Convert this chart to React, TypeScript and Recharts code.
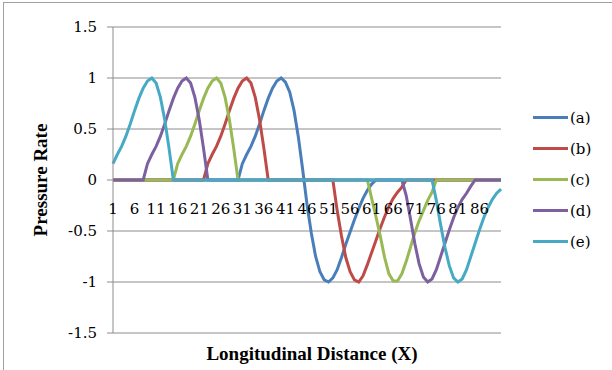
import React from "react";
import { LineChart, Line, XAxis, YAxis, CartesianGrid, Legend } from "recharts";

const categories = [
  1, 2, 3, 4, 5, 6, 7, 8, 9, 10, 11, 12, 13, 14, 15, 16, 17, 18, 19, 20,
  21, 22, 23, 24, 25, 26, 27, 28, 29, 30, 31, 32, 33, 34, 35, 36, 37, 38, 39, 40,
  41, 42, 43, 44, 45, 46, 47, 48, 49, 50, 51, 52, 53, 54, 55, 56, 57, 58, 59, 60,
  61, 62, 63, 64, 65, 66, 67, 68, 69, 70, 71, 72, 73, 74, 75, 76, 77, 78, 79, 80,
  81, 82, 83, 84, 85, 86, 87, 88, 89, 90, 91,
];

const tickLabels = [1, 6, 11, 16, 21, 26, 31, 36, 41, 46, 51, 56, 61, 66, 71, 76, 81, 86];
const yTicks = [-1.5, -1, -0.5, 0, 0.5, 1, 1.5];

// (a)
const seriesA = [
  0, 0, 0, 0, 0, 0, 0, 0, 0, 0,
  0, 0, 0, 0, 0, 0, 0, 0, 0, 0,
  0, 0, 0, 0, 0, 0, 0, 0, 0, 0,
  0.16, 0.25, 0.33, 0.43, 0.55, 0.68, 0.8, 0.9, 0.97, 1, 0.96, 0.86, 0.68, 0.42, 0.1,
  -0.24, -0.52, -0.75, -0.9, -0.98, -1, -0.96, -0.88, -0.76, -0.63, -0.51, -0.39, -0.28, -0.18, -0.1, -0.04,
  0, 0, 0, 0, 0, 0, 0, 0, 0, 0,
  0, 0, 0, 0, 0, 0, 0, 0, 0, 0,
  0, 0, 0, 0, 0, 0, 0, 0, 0, 0,
];

// (b)
const seriesB = [
  0, 0, 0, 0, 0, 0, 0, 0, 0, 0,
  0, 0, 0, 0, 0, 0, 0, 0, 0, 0,
  0, 0,
  0.16, 0.25, 0.33, 0.43, 0.55, 0.68, 0.8, 0.9, 0.97, 1, 0.95, 0.81, 0.59, 0.31, 0,
  0, 0, 0, 0, 0, 0, 0, 0, 0, 0,
  0, 0, 0, 0, 0,
  -0.3, -0.55, -0.76, -0.9, -0.98, -1, -0.94, -0.83, -0.71, -0.59, -0.47, -0.36, -0.26, -0.18, -0.12, -0.07,
  0, 0, 0, 0, 0, 0, 0, 0, 0, 0,
  0, 0, 0, 0, 0, 0, 0, 0, 0, 0,
  0, 0, 0,
];

// (c)
const seriesC = [
  0, 0, 0, 0, 0, 0, 0, 0, 0, 0,
  0, 0, 0, 0, 0,
  0.16, 0.25, 0.33, 0.43, 0.55, 0.68, 0.8, 0.9, 0.97, 1, 0.95, 0.81, 0.59, 0.31, 0,
  0, 0, 0, 0, 0, 0, 0, 0, 0, 0,
  0, 0, 0, 0, 0, 0, 0, 0, 0, 0,
  0, 0, 0, 0, 0, 0, 0, 0, 0, 0,
  -0.18, -0.36, -0.55, -0.76, -0.92, -0.99, -0.99, -0.92, -0.8, -0.66, -0.52, -0.4, -0.3, -0.2, -0.12,
  0, 0, 0, 0, 0, 0, 0, 0, 0, 0,
  0, 0, 0, 0, 0, 0,
];

// (d)
const seriesD = [
  0, 0, 0, 0, 0, 0, 0, 0,
  0.16, 0.25, 0.33, 0.43, 0.55, 0.68, 0.8, 0.9, 0.97, 1, 0.95, 0.81, 0.59, 0.31, 0,
  0, 0, 0, 0, 0, 0, 0, 0, 0, 0,
  0, 0, 0, 0, 0, 0, 0, 0, 0, 0,
  0, 0, 0, 0, 0, 0, 0, 0, 0, 0,
  0, 0, 0, 0, 0, 0, 0, 0, 0, 0,
  0, 0, 0, 0, 0,
  -0.15, -0.38, -0.62, -0.82, -0.95, -1, -0.97, -0.88, -0.75, -0.62, -0.49, -0.37, -0.27, -0.19, -0.13, -0.06,
  0, 0, 0, 0, 0, 0, 0,
];

// (e)
const seriesE = [
  0.16, 0.25, 0.33, 0.43, 0.55, 0.68, 0.8, 0.9, 0.97, 1, 0.95, 0.81, 0.59, 0.31, 0,
  0, 0, 0, 0, 0, 0, 0, 0, 0, 0,
  0, 0, 0, 0, 0, 0, 0, 0, 0, 0,
  0, 0, 0, 0, 0, 0, 0, 0, 0, 0,
  0, 0, 0, 0, 0, 0, 0, 0, 0, 0,
  0, 0, 0, 0, 0, 0, 0, 0, 0, 0,
  0, 0, 0, 0, 0, 0, 0, 0, 0, 0,
  -0.2, -0.44, -0.66, -0.84, -0.96, -1, -0.97, -0.88, -0.75, -0.62, -0.49, -0.37, -0.27, -0.19, -0.13, -0.09,
];

const seriesNames = ["(a)", "(b)", "(c)", "(d)", "(e)"];
const seriesKeys = ["a", "b", "c", "d", "e"];
const seriesColors = ["#4A7EBB", "#BE4B48", "#98B954", "#7D60A0", "#46AAC5"];

const data = categories.map((c, i) => ({
  x: c,
  a: seriesA[i],
  b: seriesB[i],
  c: seriesC[i],
  d: seriesD[i],
  e: seriesE[i],
}));

const TICK_FONT = "'DejaVu Serif', serif";
const TITLE_FONT = "'Liberation Serif', 'Times New Roman', serif";
const W = 612;
const H = 370;
const MARGIN = { top: 27, right: 111, bottom: 0, left: 0 };
const Y_AXIS_W = 113;
const X_AXIS_H = 37;
const PLOT_H = H - MARGIN.top - MARGIN.bottom - X_AXIS_H;
const GRID = "#8c8c8c";

const XTick = (props: any) => {
  const { x, y, payload } = props;
  if (!tickLabels.includes(payload.value)) return <g />;
  // labels sit just below the zero line (middle of the plot)
  const zeroY = y - PLOT_H / 2;
  return (
    <text
      x={x}
      y={zeroY + 26}
      textAnchor="middle"
      fontFamily={TICK_FONT}
      fontSize={15}
      fill="#000"
    >
      {payload.value}
    </text>
  );
};

const LegendContent = () => (
  <div style={{ fontFamily: TICK_FONT, fontSize: 15, color: "#000" }}>
    {seriesNames.map((n, i) => (
      <div
        key={n}
        style={{ display: "flex", alignItems: "center", height: 31 }}
      >
        <div
          style={{
            width: 35,
            height: 3,
            background: seriesColors[i],
            marginRight: 2,
          }}
        />
        <span>{n}</span>
      </div>
    ))}
  </div>
);

export default function App() {
  return (
    <div
      style={{
        position: "absolute",
        left: 0,
        top: 0,
        width: W,
        height: H,
        background: "#fff",
      }}
    >
      <div
        style={{
          position: "absolute",
          left: 3,
          top: 2,
          width: W - 3,
          height: H - 2,
          borderTop: "1px solid #a0a0a0",
          borderLeft: "1px solid #a0a0a0",
          boxSizing: "border-box",
        }}
      />
      <LineChart width={W} height={H} data={data} margin={MARGIN}>
        <CartesianGrid horizontal vertical={false} stroke={GRID} strokeWidth={1} />
        <XAxis
          dataKey="x"
          height={X_AXIS_H}
          axisLine={false}
          tickLine={false}
          interval={0}
          tick={<XTick />}
          label={{
            content: () => (
              <text
                x={312}
                y={360}
                textAnchor="middle"
                fontFamily={TITLE_FONT}
                fontWeight="bold"
                fontSize={19}
                fill="#000"
              >
                Longitudinal Distance (X)
              </text>
            ),
          }}
        />
        <YAxis
          width={Y_AXIS_W}
          domain={[-1.5, 1.5]}
          ticks={yTicks}
          interval={0}
          axisLine={{ stroke: GRID }}
          tickLine={{ stroke: GRID }}
          tickSize={6}
          tickMargin={10}
          tick={{ fontFamily: TICK_FONT, fontSize: 15, fill: "#000" }}
          tickFormatter={(v: number) => String(v)}
          label={{
            content: () => (
              <text
                x={0}
                y={0}
                transform="translate(47, 180) rotate(-90)"
                textAnchor="middle"
                fontFamily={TITLE_FONT}
                fontWeight="bold"
                fontSize={19}
                fill="#000"
              >
                Pressure Rate
              </text>
            ),
          }}
        />
        <Legend
          layout="vertical"
          align="center"
          verticalAlign="middle"
          content={<LegendContent />}
          wrapperStyle={{ left: 533, top: 102, width: 70, right: "auto" }}
        />
        {seriesKeys.map((k, i) => (
          <Line
            key={k}
            type="linear"
            dataKey={k}
            name={seriesNames[i]}
            stroke={seriesColors[i]}
            strokeWidth={3}
            dot={false}
            activeDot={false}
            isAnimationActive={false}
          />
        ))}
      </LineChart>
    </div>
  );
}
